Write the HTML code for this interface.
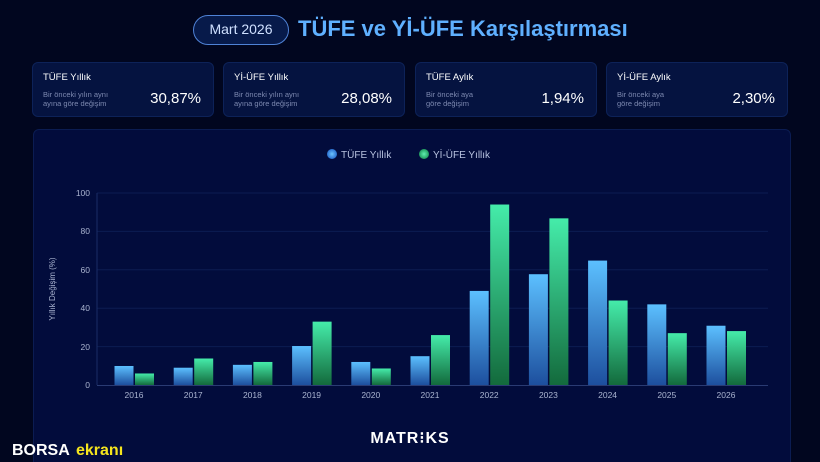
<!DOCTYPE html>
<html><head><meta charset="utf-8"><style>
html,body{margin:0;width:820px;height:462px;overflow:hidden}
body{background:#01061f;font-family:"Liberation Sans",sans-serif;color:#fff;position:relative}
.pill{position:absolute;left:193px;top:15px;width:96px;height:30px;border:1.5px solid #4f82d6;border-radius:16px;box-sizing:border-box;background:#071a4a;font-size:14px;color:#cfe0ff;text-align:center;line-height:27px}
.title{position:absolute;left:298px;top:16px;font-size:22px;font-weight:bold;color:#5fb0ff}
.card{position:absolute;top:62px;width:182px;height:55px;background:#051340;border:1px solid #0d2258;border-radius:6px;box-sizing:border-box}
.card .h{position:absolute;left:10px;top:9px;font-size:9.5px;color:#fff}
.card .s{position:absolute;left:10px;top:27px;font-size:7.5px;color:#7d89b0;line-height:9px}
.card .v{position:absolute;right:12px;top:27px;font-size:15px;color:#fff}
.panel{position:absolute;left:33px;top:129px;width:756px;height:340px;background:#020c3c;border:1px solid #0b1c52;border-radius:6px}
</style></head><body>
<div class="pill">Mart 2026</div>
<div class="title">TÜFE ve Yİ-ÜFE Karşılaştırması</div>
<div class="card" style="left:32px"><div class="h">TÜFE Yıllık</div><div class="s">Bir önceki yılın aynı<br>ayına göre değişim</div><div class="v">30,87%</div></div>
<div class="card" style="left:223px"><div class="h">Yİ-ÜFE Yıllık</div><div class="s">Bir önceki yılın aynı<br>ayına göre değişim</div><div class="v">28,08%</div></div>
<div class="card" style="left:415px"><div class="h">TÜFE Aylık</div><div class="s">Bir önceki aya<br>göre değişim</div><div class="v">1,94%</div></div>
<div class="card" style="left:606px"><div class="h">Yİ-ÜFE Aylık</div><div class="s">Bir önceki aya<br>göre değişim</div><div class="v">2,30%</div></div>
<div class="panel"></div>
<svg width="820" height="462" style="position:absolute;left:0;top:0">
<defs>
<linearGradient id="b" x1="0" y1="0" x2="0" y2="1"><stop offset="0" stop-color="#5cc0ff"/><stop offset="1" stop-color="#1d4f9e"/></linearGradient>
<linearGradient id="g" x1="0" y1="0" x2="0" y2="1"><stop offset="0" stop-color="#45ecaa"/><stop offset="1" stop-color="#136a3c"/></linearGradient>
<radialGradient id="bd"><stop offset="0" stop-color="#6cc4ff"/><stop offset="1" stop-color="#2a6fd0"/></radialGradient>
<radialGradient id="gd"><stop offset="0" stop-color="#5ff0b0"/><stop offset="1" stop-color="#1f9a5e"/></radialGradient>
</defs>
<circle cx="332" cy="154" r="5" fill="url(#bd)"/><text x="341" y="158" font-size="10" fill="#b8c3e0">TÜFE Yıllık</text>
<circle cx="424" cy="154" r="5" fill="url(#gd)"/><text x="433" y="158" font-size="10" fill="#b8c3e0">Yİ-ÜFE Yıllık</text>
<g stroke="#0c1d52" stroke-width="1">
<line x1="97" y1="193" x2="768" y2="193"/><line x1="97" y1="231.4" x2="768" y2="231.4"/><line x1="97" y1="269.8" x2="768" y2="269.8"/><line x1="97" y1="308.2" x2="768" y2="308.2"/><line x1="97" y1="346.6" x2="768" y2="346.6"/>
</g>
<line x1="97" y1="193" x2="97" y2="385" stroke="#1a2c66"/>
<line x1="97" y1="385.5" x2="768" y2="385.5" stroke="#2a3b73"/>
<g font-size="8.5" fill="#aab4d0" text-anchor="end">
<text x="90" y="196">100</text><text x="90" y="234">80</text><text x="90" y="273">60</text><text x="90" y="311">40</text><text x="90" y="350">20</text><text x="90" y="388">0</text>
</g>
<text transform="translate(55,289) rotate(-90)" font-size="8" fill="#aab4d0" text-anchor="middle">Yıllık Değişim (%)</text>
<g id="bars"></g>
<g font-size="8.5" fill="#aab4d0" text-anchor="middle" id="lbl"></g>
<text x="410" y="443" font-size="16" font-weight="bold" fill="#fff" text-anchor="middle" letter-spacing="1">MATR⁝KS</text>
<text x="12" y="455" font-size="16" font-weight="bold" fill="#fff">BORSA</text>
<text x="76" y="455" font-size="16" font-weight="bold" fill="#f5e51e">ekranı</text>
</svg>
<script>
var t=[9.9,9.0,10.5,20.3,12.0,15.0,49,57.7,64.8,42,30.87],y=[6,13.8,12,33,8.6,26,94,86.8,44,27,28.08];
var s='',l='';
for(var i=0;i<11;i++){var c=134+i*59.2;
var h1=t[i]*1.92,h2=y[i]*1.92;
s+='<rect x="'+(c-19.5)+'" y="'+(385-h1)+'" width="19" height="'+h1+'" fill="url(#b)"/>';
s+='<rect x="'+(c+1)+'" y="'+(385-h2)+'" width="19" height="'+h2+'" fill="url(#g)"/>';
l+='<text x="'+c+'" y="398">'+(2016+i)+'</text>';}
document.getElementById('bars').innerHTML=s;document.getElementById('lbl').innerHTML=l;
</script>
</body></html>
